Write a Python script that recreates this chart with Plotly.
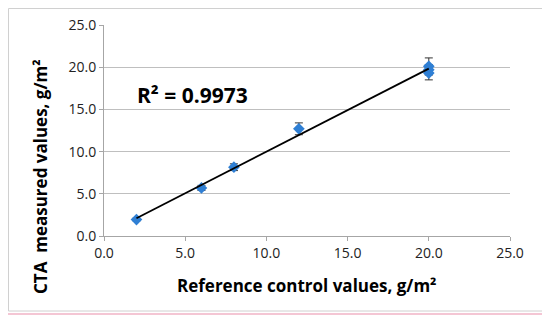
import numpy as np
import plotly.graph_objects as go

ref_x = [2, 6, 8, 12, 20, 20, 20]
cta_y = [1.95, 5.7, 8.15, 12.7, 20.1, 19.7, 19.3]
err_y = [0.15, 0.3, 0.4, 0.7, 1.0, 0.6, 0.8]
r2_text = "R² = 0.9973"
x_ticks = [0, 5, 10, 15, 20, 25]
y_ticks = [0, 5, 10, 15, 20, 25]

slope, intercept = np.polyfit(ref_x, cta_y, 1)
line_x = [min(ref_x), max(ref_x)]
line_y = [slope * v + intercept for v in line_x]

# page body has an 8px margin, so the figure starts at (8, 8) on screen
OFF = 8
W, H = 550 - OFF, 321 - OFF
L, T = 104 - OFF, 25 - OFF
PW, PH = 406, 211
R = W - L - PW
B = H - T - PH

def px2x(px):
    return (px - OFF - L) / PW

def py2y(py):
    return (T + PH - (py - OFF)) / PH

fig = go.Figure()
fig.add_trace(go.Scatter(
    x=ref_x, y=cta_y, mode="markers",
    marker=dict(symbol="diamond", size=9, color="#2f7fd4"),
    error_y=dict(type="data", array=err_y, visible=True, color="#333333", thickness=1, width=4),
    showlegend=False))
fig.add_trace(go.Scatter(
    x=line_x, y=line_y, mode="lines",
    line=dict(color="black", width=1.8), showlegend=False))

font_family = "Open Sans, sans-serif"
fig.update_layout(
    width=W, height=H,
    margin=dict(l=L, r=R, t=T, b=B, autoexpand=False),
    paper_bgcolor="white", plot_bgcolor="white",
    font=dict(family=font_family, size=13, color="#222222"),
    xaxis=dict(range=[0, 25], tickvals=x_ticks, ticktext=[f"{v:.1f}" for v in x_ticks],
               showgrid=False, showline=True, linecolor="#a6a6a6", linewidth=1,
               ticks="outside", ticklen=4, tickcolor="#a6a6a6", zeroline=False,
               automargin=False, tickfont=dict(size=14, color="#222222")),
    yaxis=dict(range=[0, 25], tickvals=y_ticks, ticktext=[f"{v:.1f}" for v in y_ticks],
               showgrid=True, gridcolor="#bfbfbf", gridwidth=1,
               showline=True, linecolor="#a6a6a6", linewidth=1,
               ticks="outside", ticklen=4, tickcolor="#a6a6a6", zeroline=False,
               automargin=False, tickfont=dict(size=14, color="#222222")),
    annotations=[
        dict(text=r2_text, x=1.9, y=16.7, xref="x", yref="y", xanchor="left", yanchor="middle",
             showarrow=False, font=dict(size=21, family=font_family, color="black", weight="bold")),
        dict(text="Reference control values, g/m²", x=px2x(307), y=py2y(285),
             xref="paper", yref="paper", xanchor="center", yanchor="middle", showarrow=False,
             font=dict(size=17, family=font_family, color="black", weight="bold")),
        dict(text="CTA  measured values, g/m²", x=px2x(40), y=py2y(177),
             xref="paper", yref="paper", xanchor="center", yanchor="middle",
             showarrow=False, textangle=-90,
             font=dict(size=17, family=font_family, color="black", weight="bold")),
    ],
)

fig.add_shape(type="rect", xref="paper", yref="paper",
              x0=px2x(8.5), x1=px2x(545), y0=py2y(311), y1=py2y(8.5),
              line=dict(color="#d0d0d0", width=1), layer="below")
fig.add_shape(type="line", xref="paper", yref="paper",
              x0=px2x(8), x1=px2x(550), y0=py2y(314), y1=py2y(314),
              line=dict(color="#f4c6d4", width=2))

fig.write_html("out.html")
